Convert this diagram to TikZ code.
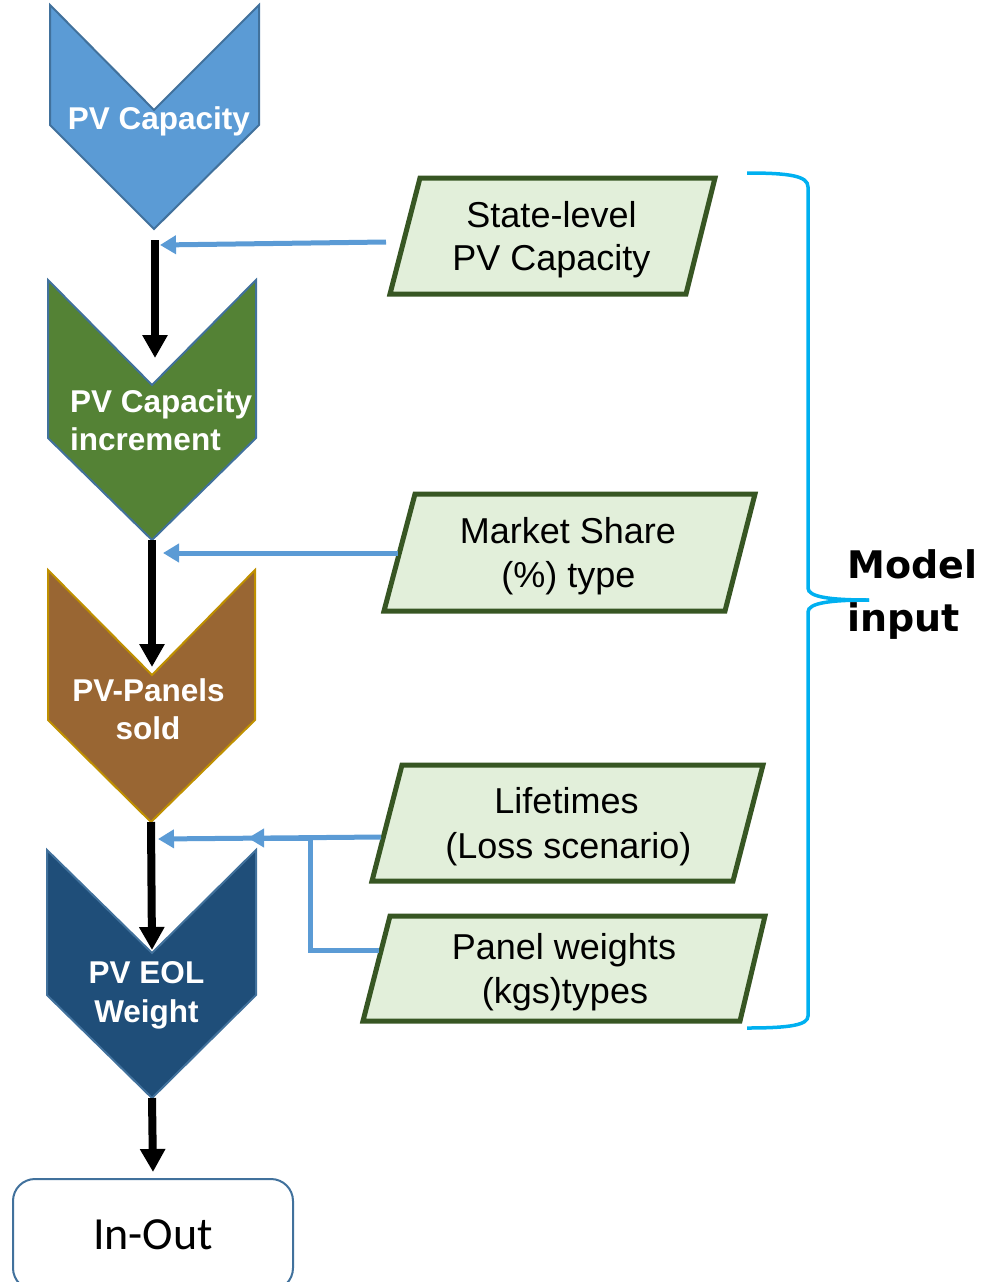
\documentclass[tikz,border=0pt]{standalone}
\usepackage{fontspec}
\setmainfont{Liberation Sans}
\newfontfamily\calibfont{Carlito}
\newfontfamily\djvfont{DejaVu Sans}
\usetikzlibrary{arrows.meta}
\definecolor{chevA}{HTML}{5B9BD5}
\definecolor{chevB}{HTML}{548235}
\definecolor{chevC}{HTML}{996633}
\definecolor{chevD}{HTML}{1F4E79}
\definecolor{edgeblue}{HTML}{41719C}
\definecolor{edgegold}{HTML}{BF9000}
\definecolor{parafill}{HTML}{E2EFDA}
\definecolor{paraedge}{HTML}{375623}
\definecolor{arrblue}{HTML}{5B9BD5}
\definecolor{bracecol}{HTML}{00B0F0}
\tikzset{
  chevbox/.style={line width=2pt, line join=miter},
  parabox/.style={draw=paraedge, fill=parafill, line width=5pt, line join=miter},
  blkarrow/.style={draw=black, line width=8pt, -{Triangle[width=24pt,length=23pt]}},
  bluarrow/.style={draw=arrblue, line width=5pt, -{Triangle[width=18pt,length=16pt]}},
  wtxt/.style={text=white, font=\fontsize{31.5}{37}\selectfont\bfseries, inner sep=0pt, anchor=base},
  ptxt/.style={text=black, font=\fontsize{36}{43}\selectfont, inner sep=0pt, anchor=base},
  bracestyle/.style={draw=bracecol, line width=3.5pt}
}
\begin{document}
\begin{tikzpicture}[x=1pt,y=-1pt]
\useasboundingbox (0,0) rectangle (980,1282);

% ---- chevrons ----
\coordinate (c1notch) at (154,110); \coordinate (c1tip) at (154,229);
\filldraw[chevbox, fill=chevA, draw=edgeblue]
  (50,5) -- (c1notch) -- (259,5) -- (259,125) -- (c1tip) -- (50,125) -- cycle;
\coordinate (c2notch) at (152,385); \coordinate (c2tip) at (152,540);
\filldraw[chevbox, fill=chevB, draw=edgeblue]
  (48,280) -- (c2notch) -- (256,280) -- (256,438) -- (c2tip) -- (48,438) -- cycle;
\coordinate (c3notch) at (152,675); \coordinate (c3tip) at (151,822);
\filldraw[chevbox, fill=chevC, draw=edgegold]
  (48,570) -- (c3notch) -- (255,570) -- (255,720) -- (c3tip) -- (48,720) -- cycle;
\coordinate (c4notch) at (152,953); \coordinate (c4tip) at (152,1098);
\filldraw[chevbox, fill=chevD, draw=edgeblue]
  (47,850) -- (c4notch) -- (256,850) -- (256,995) -- (c4tip) -- (47,995) -- cycle;

\node[wtxt] (t1) at (159,129) {PV Capacity};
\node[wtxt, anchor=base west] (t2a) at (70,412) {PV Capacity};
\node[wtxt, anchor=base west] (t2b) at (70,450) {increment};
\node[wtxt] (t3a) at (148.5,701) {PV-Panels};
\node[wtxt] (t3b) at (148,739) {sold};
\node[wtxt] (t4a) at (146.5,983) {PV EOL};
\node[wtxt] (t4b) at (146.5,1022) {Weight};

% ---- In-Out box ----
\node[draw=edgeblue, line width=2pt, rounded corners=22pt, minimum width=280pt,
      minimum height=111pt, inner sep=0pt, font=\calibfont\fontsize{46}{54}\selectfont]
  (inout) at (153,1234.5) {In-Out};

% ---- parallelograms ----
\draw[parabox] (420,178) -- (715,178) -- (686,294) -- (390,294) -- cycle;
\draw[parabox] (415,494) -- (755,494) -- (725,611) -- (384,611) -- cycle;
\draw[parabox] (402,765) -- (763,765) -- (733,881) -- (372,881) -- cycle;
\draw[parabox] (390,916) -- (765,916) -- (740,1021) -- (363,1021) -- cycle;

\node[ptxt] (p1a) at (551.5,227) {State-level};
\node[ptxt] (p1b) at (551.5,270) {PV Capacity};
\node[ptxt] (p2a) at (568,543) {Market Share};
\node[ptxt] (p2b) at (568.5,587) {(\%) type};
\node[ptxt] (p3a) at (566.5,813) {Lifetimes};
\node[ptxt] (p3b) at (568.5,858) {(Loss scenario)};
\node[ptxt] (p4a) at (564,959) {Panel weights};
\node[ptxt] (p4b) at (565,1003) {(kgs)types};

% ---- black flow arrows ----
\coordinate (k1s) at (155,240); \coordinate (k1e) at (155,358);
\draw[blkarrow] (k1s) -- (k1e);
\draw[blkarrow] (c2tip) -- ([yshift=8pt]c3notch);
\draw[blkarrow] (c3tip) -- ([yshift=3pt]c4notch);
\draw[blkarrow] (c4tip) -- ([yshift=6pt]inout.north);

% ---- blue input arrows ----
\coordinate (in1s) at (386,242); \coordinate (in1e) at (160,245);
\coordinate (in2s) at (398,553); \coordinate (in2e) at (163,553);
\coordinate (in3s) at (381,837); \coordinate (in3e) at (158,839);
\coordinate (in4s) at (379,950); \coordinate (jn) at (310,950);
\coordinate (jt) at (310,838); \coordinate (in4e) at (248,838);
\draw[bluarrow] (in1s) -- (in1e);
\draw[bluarrow] (in2s) -- (in2e);
\draw[bluarrow] (in3s) -- (in3e);
\draw[bluarrow, line join=miter] (in4s) -- (jn) -- (jt) -- (in4e);

% ---- brace ----
\coordinate (brtop) at (747,173);
\coordinate (brtip) at (869,600);
\coordinate (brbot) at (747,1028);
\draw[bracestyle] (brtop) .. controls (790,173) and (808,176) .. (808,187)
  -- (808,588) .. controls (808,597) and (830,600) .. (brtip);
\draw[bracestyle] (brtip) .. controls (830,600) and (808,603) .. (808,612)
  -- (808,1016) .. controls (808,1025) and (790,1028) .. (brbot);

\node[font=\djvfont\bfseries\fontsize{38}{44}\selectfont, inner sep=0pt, anchor=base west]
  (m1) at (847,578) {Model};
\node[font=\djvfont\bfseries\fontsize{38}{44}\selectfont, inner sep=0pt, anchor=base west]
  (m2) at (847,631) {input};
\end{tikzpicture}
\end{document}
